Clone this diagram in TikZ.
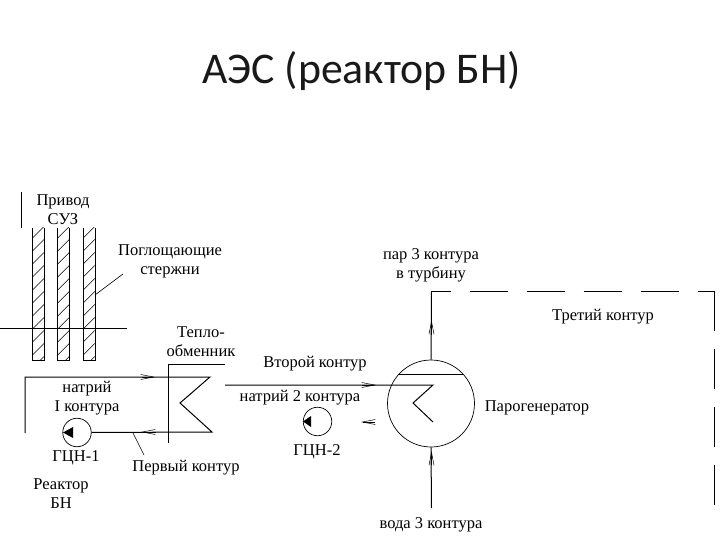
\documentclass[tikz,border=0pt]{standalone}
\usepackage{fontspec}
\setmainfont{Liberation Serif}
\newfontfamily\titlefont{Carlito}
\usetikzlibrary{arrows.meta}
\tikzset{
	x=1pt,y=-1pt,
	pipe/.style={draw,line width=1pt},
	rod/.style={minimum width=11.5pt,minimum height=132pt,inner sep=0pt,
		path picture={\foreach \k in {-8,5,...,135} \draw[line width=0.5pt] ([yshift=\k pt]path picture bounding box.south west) -- ++(11.5,-11.5);}},
	pump/.style={draw,circle,line width=0.7pt,minimum size=28.5pt,inner sep=0pt},
	leader/.style={draw,line width=0.6pt},
	flow/.style={draw,line width=0.5pt,-{Straight Barb[length=13pt,width=5pt]}},
	lbl/.style={inner sep=0pt,align=center,font=\fontsize{16.5}{19}\selectfont},
}
\begin{document}
\begin{tikzpicture}
	\useasboundingbox (0,0) rectangle (720,540);
	\node[inner sep=0pt,font=\titlefont\fontsize{43.8}{50}\selectfont,text=black!90] (title) at (361.5,71) {АЭС (реактор БН)};
	% rods
	\node[rod] (rod1) at (38.2,294) {};
	\node[rod] (rod2) at (63.5,294) {};
	\node[rod] (rod3) at (89,294) {};
	\foreach \r in {rod1,rod2,rod3}
		\draw[line width=0.8pt] (\r.north west) -- (\r.south west) -- (\r.south east) -- (\r.north east);
	\coordinate (drive1) at (21.5,192);
	\coordinate (drive2) at (21.5,228);
	\coordinate (core1) at (0,328);
	\coordinate (core2) at (127,328);
	\draw[pipe] (drive1) -- (drive2);
	\draw[pipe] (core1) -- (core2);
	\node[lbl] (drive) at (63,209.5) {Привод\\СУЗ};
	\node[lbl] (rods) at (170,261) {Поглощающие\\стержни};
	\coordinate (leadrods) at (123,274);
	\draw[leader] (leadrods) -- (rod3.east |- 0,295);
	% first loop
	\node[lbl] (hx) at (201,342) {Тепло-\\обменник};
	\coordinate (p1) at (25,433);
	\coordinate (p2) at (25,377);
	\coordinate (p3) at (210,377);
	\coordinate (p4) at (180,403);
	\coordinate (p5) at (212,432);
	\coordinate (h1) at (225,364);
	\coordinate (h2) at (168,364);
	\coordinate (h3) at (168,443);
	\node[pump] (gcn1) at (77,432.5) {};
	\draw[pipe] (p1) -- (p2) -- (p3) -- (p4) -- (p5) -- (gcn1.east);
	\draw[pipe] (h1) -- (h2) -- (h3);
	\fill (63,432.5) -- (73,427) -- (73,438) -- cycle;
	\node[lbl] (sodium1) at (87,398) {натрий\\I контура};
	\node[lbl] (gcn1lbl) at (76,458) {ГЦН-1};
	\node[lbl] (reactor) at (61,494) {Реактор\\БН};
	\node[lbl] (loop1) at (186,468) {Первый контур};
	\coordinate (lead1a) at (144,455);
	\coordinate (lead1b) at (133,433);
	\draw[leader] (lead1a) -- (lead1b);
	\coordinate (f1a) at (142,377);
	\coordinate (f1b) at (155,377);
	\coordinate (f2a) at (156,432);
	\coordinate (f2b) at (141,432);
	\draw[flow] (f1a) -- (f1b);
	\draw[flow] (f2a) -- (f2b);
	% second loop
	\node[pump,minimum size=87pt] (sg) at (431,403.5) {};
	\coordinate (s1) at (225,385);
	\coordinate (s2) at (433,385);
	\coordinate (s3) at (413,403);
	\coordinate (s4) at (433,422);
	\coordinate (plate1) at (398,374);
	\coordinate (plate2) at (463,374);
	\draw[pipe] (s1) -- (s2) -- (s3) -- (s4);
	\draw[pipe] (plate1) -- (plate2);
	\node[lbl] (loop2) at (315,364) {Второй контур};
	\node[lbl] (sodium2) at (300,398) {натрий 2 контура};
	\node[pump] (gcn2) at (317.5,421.5) {};
	\fill (303,421.5) -- (311,416) -- (311,427) -- cycle;
	\node[lbl] (gcn2lbl) at (317,452) {ГЦН-2};
	\coordinate (f3a) at (362,385);
	\coordinate (f3b) at (376,385);
	\coordinate (f4a) at (375,422);
	\coordinate (f4b) at (361,422);
	\draw[flow] (f3a) -- (f3b);
	\draw[flow] (f4a) -- (f4b);
	% third loop
	\coordinate (top) at (431.5,291);
	\coordinate (corner) at (714.5,291);
	\coordinate (rightend) at (714.5,505);
	\coordinate (water) at (431.5,508);
	\draw[pipe] (sg.north) -- (top);
	\draw[pipe,dash pattern=on 38pt off 19pt,dash phase=19pt] (top) -- (corner);
	\draw[pipe,dash pattern=on 40pt off 18pt] (corner) -- (rightend);
	\draw[pipe] (water) -- (sg.south);
	\coordinate (f5a) at (431.5,335);
	\coordinate (f5b) at (431.5,320);
	\coordinate (f6a) at (431.5,465);
	\coordinate (f6b) at (431.5,451);
	\draw[flow] (f5a) -- (f5b);
	\draw[flow] (f6a) -- (f6b);
	\node[lbl] (steam) at (431,265) {пар 3 контура\\в турбину};
	\node[lbl] (loop3) at (603,317) {Третий контур};
	\node[lbl] (sglbl) at (537,408) {Парогенератор};
	\node[lbl] (water3) at (431,525) {вода 3 контура};
\end{tikzpicture}
\end{document}
